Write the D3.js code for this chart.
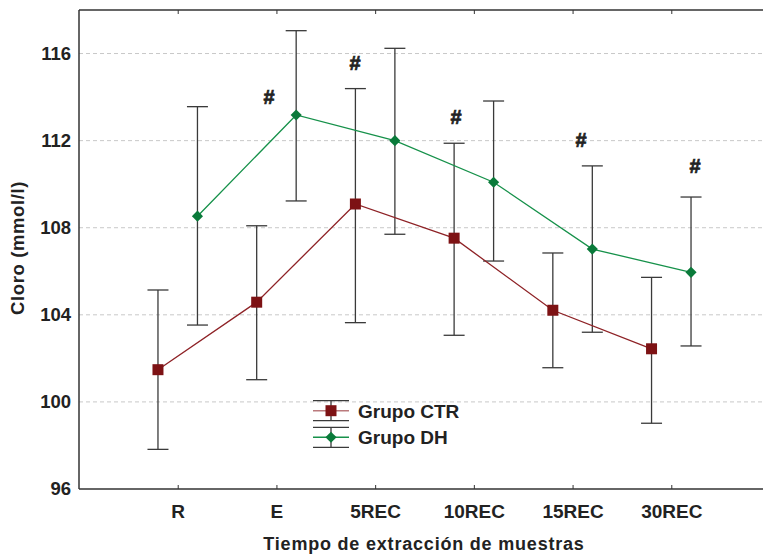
<!DOCTYPE html>
<html><head><meta charset="utf-8">
<script src="https://cdn.jsdelivr.net/npm/d3@7/dist/d3.min.js"></script>
<style>
html,body{margin:0;padding:0;background:#fff;}
svg{display:block;font-family:"Liberation Sans",Arial,sans-serif;}
</style></head>
<body><svg id="c" width="763" height="557"></svg>
<script>
const categories = ["R","E","5REC","10REC","15REC","30REC"];
const ctrMean  = [101.48, 104.58, 109.09, 107.52, 104.21, 102.44];
const ctrUpper = [105.14, 108.09, 114.39, 111.88, 106.84, 105.72];
const ctrLower = [97.82, 101.02, 103.64, 103.06, 101.57, 99.02];
const dhMean   = [108.53, 113.18, 112.00, 110.09, 107.02, 105.95];
const dhUpper  = [113.56, 117.05, 116.24, 113.82, 110.84, 109.41];
const dhLower  = [103.53, 109.23, 107.70, 106.47, 103.20, 102.57];
const yTicks = [96, 100, 104, 108, 112, 116];
const hashX = [0.925, 1.796, 2.819, 4.086, 5.241];
const hashY = [113.99, 115.55, 113.10, 112.03, 110.83];
const seriesNames = ["Grupo CTR", "Grupo DH"];

const svg = d3.select("#c");
const L = 79, T = 10, R = 770, B = 489;
const x = d3.scaleLinear().domain([-1, 6]).range([L, R]);
const y = d3.scaleLinear().domain([96, 118]).range([B, T]);
const dodge = 0.2;
const ink = "#222";
const ctrCol = "#7d1214", ctrLine = "#8e2226";
const dhCol = "#0a7a3a", dhLine = "#16914a";

// gridlines
svg.append("g").selectAll("line").data(yTicks.filter(v => v > 96)).join("line")
  .attr("x1", L).attr("x2", R).attr("y1", d => y(d)).attr("y2", d => y(d))
  .attr("stroke", "#c8c8c8").attr("stroke-width", 1).attr("stroke-dasharray", "4,3");

// frame
svg.append("line").attr("x1", L).attr("x2", L).attr("y1", T).attr("y2", B).attr("stroke", "#333").attr("stroke-width", 1.5);
svg.append("line").attr("x1", L).attr("x2", R).attr("y1", B).attr("y2", B).attr("stroke", "#333").attr("stroke-width", 1.5);
svg.append("line").attr("x1", L).attr("x2", R).attr("y1", T).attr("y2", T).attr("stroke", "#333").attr("stroke-width", 1.5);

// axes
const xAxis = d3.axisBottom(x).tickValues(d3.range(categories.length))
  .tickFormat(i => categories[i]).tickSize(-4).tickPadding(16);
const gx = svg.append("g").attr("transform", `translate(0,${B})`).call(xAxis);
gx.select(".domain").remove();
gx.selectAll("line").attr("stroke", "#333");
gx.selectAll("text").attr("font-size", 19).attr("font-weight", "bold").attr("fill", ink);

const gxTop = svg.append("g").attr("transform", `translate(0,${T})`)
  .call(d3.axisTop(x).tickValues(d3.range(categories.length)).tickFormat("").tickSize(-4));
gxTop.select(".domain").remove();
gxTop.selectAll("line").attr("stroke", "#333");

const yAxis = d3.axisLeft(y).tickValues(yTicks).tickFormat(d3.format("d")).tickSize(0).tickPadding(8);
const gy = svg.append("g").attr("transform", `translate(${L},0)`).call(yAxis);
gy.select(".domain").remove();
gy.selectAll("text").attr("font-size", 18.5).attr("font-weight", "bold").attr("fill", ink);

// axis titles
svg.append("text").attr("x", 424).attr("y", 550).attr("text-anchor", "middle")
  .attr("font-size", 18).attr("font-weight", "bold").attr("fill", ink).attr("letter-spacing", 0.8)
  .text("Tiempo de extracción de muestras");
svg.append("text").attr("transform", "translate(24,248) rotate(-90)").attr("text-anchor", "middle")
  .attr("font-size", 18.5).attr("font-weight", "bold").attr("fill", ink).attr("letter-spacing", 0.6)
  .text("Cloro (mmol/l)");

const capW = 10.5;
function errBars(mean, up, lo, off) {
  const g = svg.append("g");
  const data = mean.map((m, i) => ({ i, m, up: up[i], lo: lo[i] }));
  g.selectAll(".v").data(data).join("line")
    .attr("x1", d => x(d.i + off)).attr("x2", d => x(d.i + off))
    .attr("y1", d => y(d.up)).attr("y2", d => y(d.lo))
    .attr("stroke", "#3a3a3a").attr("stroke-width", 1.3);
  ["up", "lo"].forEach(k => {
    g.selectAll(".c" + k).data(data).join("line")
      .attr("x1", d => x(d.i + off) - capW).attr("x2", d => x(d.i + off) + capW)
      .attr("y1", d => y(d[k])).attr("y2", d => y(d[k]))
      .attr("stroke", "#3a3a3a").attr("stroke-width", 1.3);
  });
}
errBars(ctrMean, ctrUpper, ctrLower, -dodge);
errBars(dhMean, dhUpper, dhLower, dodge);

const line = d3.line().x(d => x(d[0])).y(d => y(d[1]));
svg.append("path").datum(ctrMean.map((v, i) => [i - dodge, v])).attr("d", line)
  .attr("fill", "none").attr("stroke", ctrLine).attr("stroke-width", 1.3);
svg.append("path").datum(dhMean.map((v, i) => [i + dodge, v])).attr("d", line)
  .attr("fill", "none").attr("stroke", dhLine).attr("stroke-width", 1.3);

const sq = d3.symbol().type(d3.symbolSquare).size(121);
const dm = d3.symbol().type(d3.symbolSquare).size(62);
svg.append("g").selectAll("path").data(ctrMean).join("path")
  .attr("transform", (d, i) => `translate(${x(i - dodge)},${y(d)})`).attr("d", sq).attr("fill", ctrCol);
svg.append("g").selectAll("path").data(dhMean).join("path")
  .attr("transform", (d, i) => `translate(${x(i + dodge)},${y(d)}) rotate(45)`).attr("d", dm).attr("fill", dhCol);

// significance marks
svg.append("g").selectAll("text").data(hashX).join("text")
  .attr("x", d => x(d)).attr("y", (d, i) => y(hashY[i]) + 7).attr("text-anchor", "middle")
  .attr("font-size", 20).attr("font-weight", "bold").attr("fill", ink)
  .attr("stroke", ink).attr("stroke-width", 0.7).text("#");

// legend
const lg = svg.append("g");
const lgX = 331, rows = [410.7, 437.3];
const lgCols = [[ctrCol, ctrLine], [dhCol, dhLine]];
rows.forEach((ry, k) => {
  const gr = lg.append("g");
  gr.append("line").attr("x1", lgX).attr("x2", lgX).attr("y1", ry - 10).attr("y2", ry + 10).attr("stroke", "#3a3a3a").attr("stroke-width", 1.3);
  [-10, 10].forEach(o => gr.append("line").attr("x1", lgX - 18).attr("x2", lgX + 18).attr("y1", ry + o).attr("y2", ry + o).attr("stroke", "#3a3a3a").attr("stroke-width", 1.3));
  gr.append("line").attr("x1", lgX - 18).attr("x2", lgX + 18).attr("y1", ry).attr("y2", ry)
    .attr("stroke", lgCols[k][1]).attr("stroke-width", 1.5).attr("stroke-opacity", k === 0 ? 0.6 : 1);
  gr.append("path").attr("transform", `translate(${lgX},${ry})` + (k === 0 ? "" : " rotate(45)"))
    .attr("d", k === 0 ? sq : dm).attr("fill", lgCols[k][0]);
  gr.append("text").attr("x", 358).attr("y", ry + 7).attr("font-size", 19).attr("font-weight", "bold")
    .attr("fill", ink).text(seriesNames[k]);
});
</script></body></html>
